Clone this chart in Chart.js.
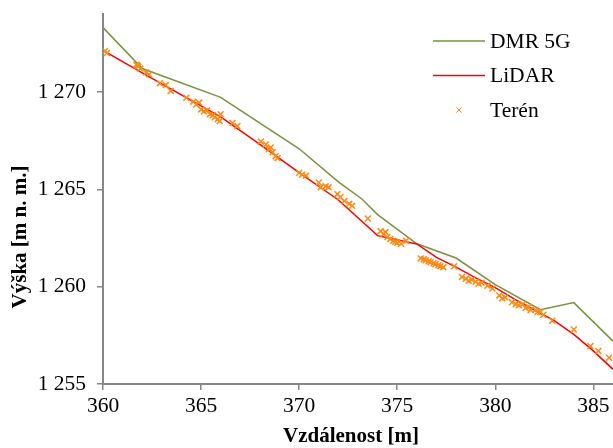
<!DOCTYPE html>
<html>
<head>
<meta charset="utf-8">
<script src="https://cdn.jsdelivr.net/npm/chart.js@4.4.1/dist/chart.umd.min.js"></script>
<style>
  html, body { margin: 0; padding: 0; background: #fff; }
  #wrap { width: 613px; height: 448px; position: relative; }
</style>
</head>
<body>
<div id="wrap"><canvas id="c"></canvas></div>
<script>
// Profile: DMR 5G terrain model, LiDAR surface and surveyed terrain points
const dmrX = [360, 362, 366, 370, 372, 373.2, 374, 376, 378, 380, 382.3, 384, 386];
const dmrY = [1273.3, 1271.2, 1269.72, 1267.08, 1265.38, 1264.5, 1263.7, 1262.2, 1261.47, 1260.1, 1258.82, 1259.18, 1257.2];

const lidarX = [360, 362, 364, 366, 368, 370, 372, 374, 376, 377, 378, 379, 380, 381, 382, 383, 384, 385, 386];
const lidarY = [1272.13, 1270.98, 1269.85, 1268.72, 1267.3, 1265.86, 1264.45, 1262.62, 1262.19, 1261.5, 1261.0, 1260.45, 1259.95, 1259.35, 1258.8, 1258.25, 1257.55, 1256.7, 1255.75];

const terenX = [
  360.1, 360.2, 361.7, 361.75, 361.8, 361.9, 362.2, 362.35, 362.9, 363.2, 363.45,
  364.25, 364.6, 364.75, 364.9, 365.0, 365.15, 365.3, 365.45, 365.6, 365.7, 365.85, 365.95,
  366.0, 366.6, 366.85, 368.05, 368.3, 368.45, 368.55, 368.65, 368.8, 368.9,
  370.0, 370.15, 370.35, 371.0, 371.1, 371.35, 371.5,
  371.95, 372.1, 372.3, 372.55, 372.7, 373.5,
  374.15, 374.3, 374.4, 374.5, 374.65, 374.8, 374.9, 375.0, 375.2, 375.45,
  376.2, 376.35, 376.45, 376.6, 376.7, 376.85, 376.95, 377.1, 377.2, 377.35, 377.9,
  378.3, 378.5, 378.65, 378.8, 379.0, 379.15, 379.3, 379.6, 379.85,
  380.2, 380.35, 380.5, 380.85, 381.05, 381.2, 381.4, 381.55, 381.7, 381.8, 382.05, 382.15, 382.3, 382.45, 382.9,
  384.0, 384.85, 385.25, 385.8
];
const terenY = [
  1272.1, 1272.0, 1271.4, 1271.35, 1271.3, 1271.2, 1271.0, 1270.9, 1270.45, 1270.35, 1270.05,
  1269.7, 1269.5, 1269.35, 1269.45, 1269.1, 1269.0, 1269.05, 1268.85, 1268.8, 1268.7, 1268.6, 1268.5,
  1268.85, 1268.4, 1268.25, 1267.45, 1267.3, 1267.05, 1267.15, 1266.9, 1266.7, 1266.6,
  1265.85, 1265.75, 1265.7, 1265.35, 1265.1, 1265.15, 1265.1,
  1264.75, 1264.6, 1264.4, 1264.25, 1264.15, 1263.5,
  1262.85, 1262.7, 1262.8, 1262.55, 1262.45, 1262.35, 1262.3, 1262.25, 1262.2, 1262.35,
  1261.45, 1261.4, 1261.35, 1261.3, 1261.25, 1261.2, 1261.15, 1261.1, 1261.05, 1261.0, 1261.05,
  1260.5, 1260.4, 1260.3, 1260.35, 1260.25, 1260.15, 1260.2, 1260.05, 1259.9,
  1259.55, 1259.4, 1259.45, 1259.2, 1259.1, 1259.05, 1259.1, 1258.9, 1258.95, 1258.8, 1258.8, 1258.7, 1258.7, 1258.55, 1258.25,
  1257.8, 1256.95, 1256.7, 1256.35
];

const xTicks = [360, 365, 370, 375, 380, 385];
const yTicks = [1255, 1260, 1265, 1270];
const xRange = [360, 386];
const yRange = [1255, 1274];

const seriesNames = ['DMR 5G', 'LiDAR', 'Terén'];
const xTitle = 'Vzdálenost [m]';
const yTitle = 'Výška [m n. m.]';

const SERIF = "'Liberation Serif', 'Times New Roman', serif";
const AXIS_GRAY = '#868686';
const GREEN = '#77933C';
const RED = '#FF0000';
const ORANGE = '#FF8A12';

const toPoints = (xs, ys) => xs.map((x, i) => ({ x: x, y: ys[i] }));
const spaced = v => String(v).replace(/\B(?=(\d{3})+(?!\d))/g, ' ');

// Axis titles and the legend box drawn inside the plot
const annotations = {
  id: 'annotations',
  afterDraw(chart) {
    const { ctx, chartArea } = chart;
    ctx.save();
    ctx.fillStyle = '#000';

    // axis titles
    ctx.font = 'bold 21px ' + SERIF;
    ctx.textAlign = 'center';
    ctx.textBaseline = 'middle';
    ctx.fillText(xTitle, chartArea.left + 248, chartArea.bottom + 53);
    ctx.save();
    ctx.translate(21, chartArea.top + 223);
    ctx.rotate(-Math.PI / 2);
    ctx.fillText(yTitle, 0, 0);
    ctx.restore();

    // legend
    const x0 = chartArea.right - 180;
    const y0 = chartArea.top + 27;
    const row = 34.5;
    ctx.font = '21.5px ' + SERIF;
    ctx.textAlign = 'left';
    chart.data.datasets.forEach((ds, i) => {
      const y = y0 + i * row;
      if (ds.showLine) {
        ctx.strokeStyle = ds.borderColor;
        ctx.lineWidth = ds.borderWidth;
        ctx.beginPath();
        ctx.moveTo(x0, y);
        ctx.lineTo(x0 + 52, y);
        ctx.stroke();
      } else {
        const cx = x0 + 26, r = 2.6;
        ctx.strokeStyle = ds.pointBorderColor;
        ctx.lineWidth = 1;
        ctx.beginPath();
        ctx.moveTo(cx - r, y - r); ctx.lineTo(cx + r, y + r);
        ctx.moveTo(cx - r, y + r); ctx.lineTo(cx + r, y - r);
        ctx.stroke();
      }
      ctx.fillStyle = '#000';
      ctx.fillText(ds.label, x0 + 57, y + 1);
    });
    ctx.restore();
  }
};

new Chart(document.getElementById('c'), {
  type: 'scatter',
  data: {
    datasets: [
      {
        label: seriesNames[0],
        data: toPoints(dmrX, dmrY),
        showLine: true,
        borderColor: GREEN,
        borderWidth: 1.5,
        pointRadius: 0,
        pointHoverRadius: 0,
        order: 3
      },
      {
        label: seriesNames[1],
        data: toPoints(lidarX, lidarY),
        showLine: true,
        borderColor: RED,
        borderWidth: 1.5,
        pointRadius: 0,
        pointHoverRadius: 0,
        order: 2
      },
      {
        label: seriesNames[2],
        data: toPoints(terenX, terenY),
        showLine: false,
        pointStyle: 'crossRot',
        pointRadius: 4.2,
        pointBorderWidth: 1.5,
        pointBorderColor: ORANGE,
        pointBackgroundColor: ORANGE,
        order: 1
      }
    ]
  },
  options: {
    responsive: true,
    maintainAspectRatio: false,
    animation: false,
    devicePixelRatio: 1,
    layout: { autoPadding: false, padding: { top: 14, right: 0, bottom: 0, left: 0 } },
    plugins: {
      legend: { display: false },
      tooltip: { enabled: false },
      title: { display: false }
    },
    scales: {
      x: {
        type: 'linear',
        min: xRange[0],
        max: xRange[1],
        afterBuildTicks: s => { s.ticks = xTicks.map(v => ({ value: v })); },
        afterFit: s => { s.height = 64; s.paddingLeft = 0; s.paddingRight = 0; },
        grid: { drawOnChartArea: false, drawTicks: true, tickLength: 6, color: AXIS_GRAY, lineWidth: 1.5 },
        border: { display: true, color: AXIS_GRAY, width: 2 },
        ticks: { color: '#000', font: { family: SERIF, size: 21.5 }, padding: 3, maxRotation: 0 }
      },
      y: {
        type: 'linear',
        min: yRange[0],
        max: yRange[1],
        afterBuildTicks: s => { s.ticks = yTicks.map(v => ({ value: v })); },
        afterFit: s => { s.width = 103; s.paddingTop = 0; s.paddingBottom = 0; },
        grid: { drawOnChartArea: false, drawTicks: true, tickLength: 6, color: AXIS_GRAY, lineWidth: 1.5 },
        border: { display: true, color: AXIS_GRAY, width: 2 },
        ticks: { color: '#000', font: { family: SERIF, size: 21.5 }, padding: 11, callback: v => spaced(v) }
      }
    }
  },
  plugins: [annotations]
});
</script>
</body>
</html>
